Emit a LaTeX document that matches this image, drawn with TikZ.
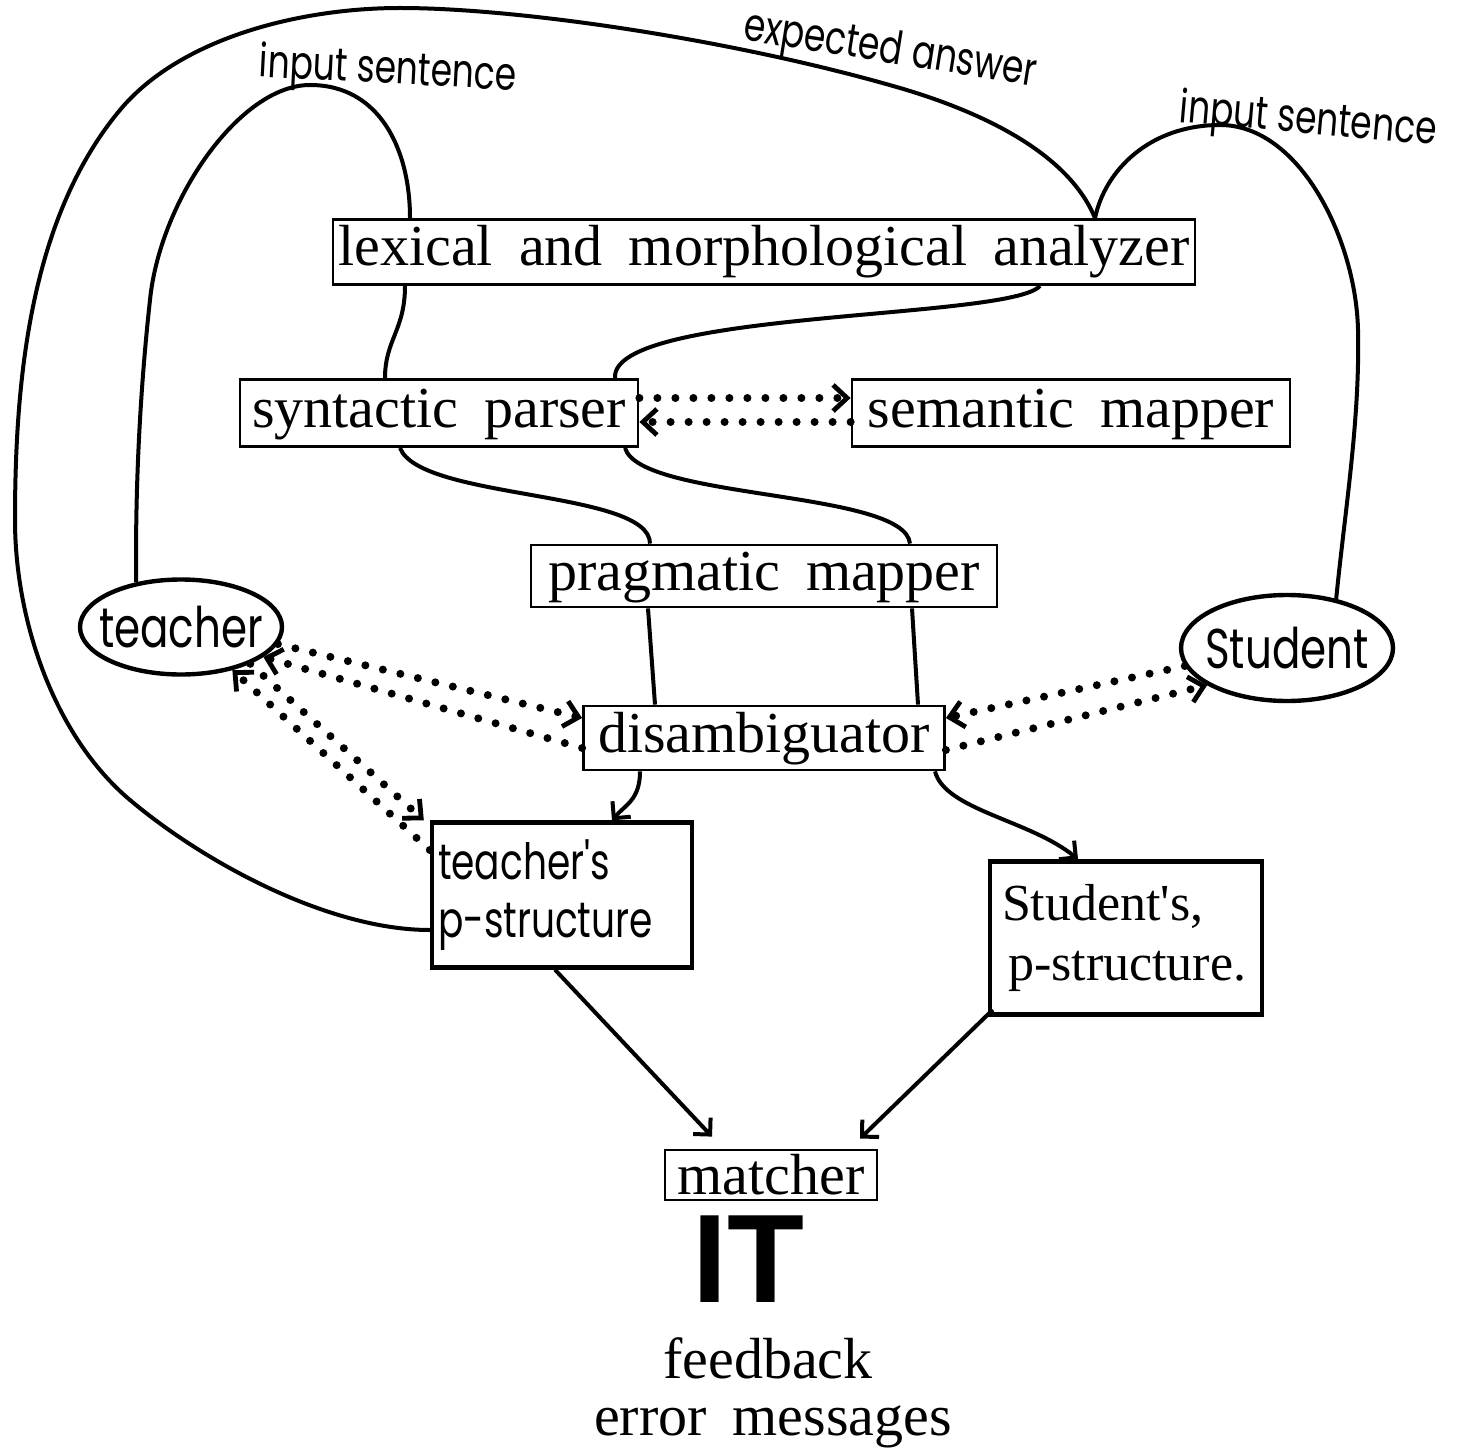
\documentclass[tikz,border=0pt]{standalone}
\usepackage{fontspec}
\setmainfont{Liberation Serif}
\newfontfamily\boxserif{Liberation Serif}
\newfontfamily\handfont[FakeStretch=0.75]{Poppins}
\newfontfamily\blocksans{Liberation Sans}
\usetikzlibrary{shapes.geometric,arrows.meta}

\newcommand{\stagefont}{\fontsize{29}{34}\selectfont\spaceskip=0.45em\relax}

\tikzset{
  stage/.style={draw, line width=1.4pt, font=\stagefont, inner sep=2pt, text height=20pt, text depth=6pt},
  pbox/.style={draw, line width=2.2pt, align=left, inner ysep=3pt},
  person/.style={draw, ellipse, line width=2.2pt, inner xsep=-8pt, inner ysep=0pt, font=\handfont\fontsize{28}{30}\selectfont},
  note/.style={font=\handfont\fontsize{23}{26}\selectfont, inner sep=0pt},
  link/.style={line width=2pt},
  hint/.style={line width=4pt, dash pattern=on 0pt off 9pt, line cap=round, >={Straight Barb[length=7pt, width=13pt, line width=2.4pt]}}
}

\begin{document}
\begin{tikzpicture}[x=0.5pt, y=-0.5pt, >={Straight Barb[length=6pt, width=12pt]}]
\useasboundingbox (0,0) rectangle (1465,1449);

% analysis stages
\node[stage, minimum width=431pt, minimum height=32.5pt] (lexan) at (764,252) {lexical and morphological analyzer};
\node[stage, minimum width=199pt, minimum height=33.5pt] (syn) at (439,413) {syntactic parser};
\node[stage, minimum width=219pt, minimum height=33.5pt] (sem) at (1071,413) {semantic mapper};
\node[stage, minimum width=233pt, minimum height=31pt] (prag) at (764,576) {pragmatic mapper};
\node[stage, minimum width=180.5pt, minimum height=32pt] (dis) at (764,738) {disambiguator};
\node[stage, minimum width=106pt, minimum height=25pt, text depth=1pt, inner ysep=1pt] (matcher) at (771,1175) {matcher};

% people
\node[person, minimum width=101pt, minimum height=47.5pt] (teacher) at (181,627) {teacher};
\node[person, minimum width=106pt, minimum height=53pt] (student) at (1287,648) {Student};

% p-structures
\node[pbox, minimum width=130pt, minimum height=72.5pt, inner xsep=2pt, text width=124pt, font=\handfont\fontsize{25}{29}\selectfont] (tp) at (562,895) {teacher's\\p-structure};
\node[pbox, minimum width=136pt, minimum height=76.5pt, inner xsep=6pt, text width=124pt, font=\boxserif\fontsize{26}{30}\selectfont] (sp) at (1126,938) {Student's,\\\hspace*{3pt}p-structure.};

% output
\node[font=\blocksans\bfseries\fontsize{63}{63}\selectfont, inner sep=0pt, anchor=base] (it) at (748,1302) {IT};
\node[font=\stagefont, inner sep=0pt, anchor=base] (fb) at (768,1378) {feedback};
\node[font=\stagefont, inner sep=0pt, anchor=base] (err) at (773,1435) {error messages};

% handwritten labels
\node[note, rotate=-3] (insl) at (388,72) {input sentence};
\node[note, rotate=-9] (expans) at (890,52) {expected answer};
\node[note, rotate=-5] (insr) at (1308,122) {input sentence};

% input sentence loops
\draw[link] (teacher.135) .. controls (135,490) and (140,390) .. (150,300) .. controls (160,200) and (240,85) .. (310,85) .. controls (380,85) and (410,150) .. ([xshift=-177pt]lexan.north);
\draw[link] ([xshift=-179.5pt]lexan.south) .. controls (405,330) and (385,340) .. ([xshift=-27pt]syn.north);
\draw[link] (student.45) .. controls (1345,510) and (1360,420) .. (1358,330) .. controls (1356,240) and (1300,125) .. (1220,125) .. controls (1150,125) and (1105,170) .. ([xshift=165.5pt]lexan.north);

% expected answer
\draw[link] ([yshift=-17.5pt]tp.west) .. controls (330,930) and (206,864) .. (130,800) .. controls (54,736) and (15,620) .. (15,520) .. controls (15,380) and (30,218) .. (120,110) .. controls (180,38) and (300,8) .. (400,8) .. controls (520,8) and (735,40) .. (900,88) .. controls (975,110) and (1067,150) .. ([xshift=165.5pt]lexan.north);

% pipeline
\draw[link] ([xshift=138pt]lexan.south) .. controls (1010,320) and (610,310) .. ([xshift=88pt]syn.north);
\draw[link] ([xshift=-19.5pt]syn.south) .. controls (420,500) and (650,490) .. ([xshift=-57pt]prag.north);
\draw[link] ([xshift=93pt]syn.south) .. controls (640,500) and (905,490) .. ([xshift=73pt]prag.north);
\draw[link] ([xshift=-58pt]prag.south) -- ([xshift=-54.5pt]dis.north);
\draw[link] ([xshift=74pt]prag.south) -- ([xshift=77pt]dis.north);
\draw[link,->] ([xshift=-62pt]dis.south) .. controls (640,800) and (625,805) .. ([xshift=25pt]tp.north);
\draw[link,->] ([xshift=85.5pt]dis.south) .. controls (945,810) and (1030,820) .. ([xshift=-24pt]sp.north);
\draw[link,->] ([xshift=-3.5pt]tp.south) -- ([xshift=-29.5pt,yshift=6pt]matcher.north);
\draw[link,->] ([xshift=2.5pt,yshift=3.5pt]sp.south west) -- ([xshift=44.5pt,yshift=5pt]matcher.north);

% interaction
\draw[hint,->] ([yshift=7.5pt]syn.east) -- ([yshift=7.5pt]sem.west);
\draw[hint,->] ([yshift=-4.5pt]sem.west) -- ([yshift=-4.5pt]syn.east);
\draw[hint,->] (teacher.-10) -- ([yshift=10pt]dis.west);
\draw[hint,->] ([yshift=-5pt]dis.west) -- (teacher.-20);
\draw[hint,->] (teacher.-28) -- ([xshift=-3pt]tp.north west);
\draw[hint,->] ([yshift=22.5pt]tp.west) -- (teacher.-40);
\draw[hint,->] (student.190) -- ([yshift=10pt]dis.east);
\draw[hint,->] ([yshift=-6pt]dis.east) -- (student.205);
\end{tikzpicture}
\end{document}
